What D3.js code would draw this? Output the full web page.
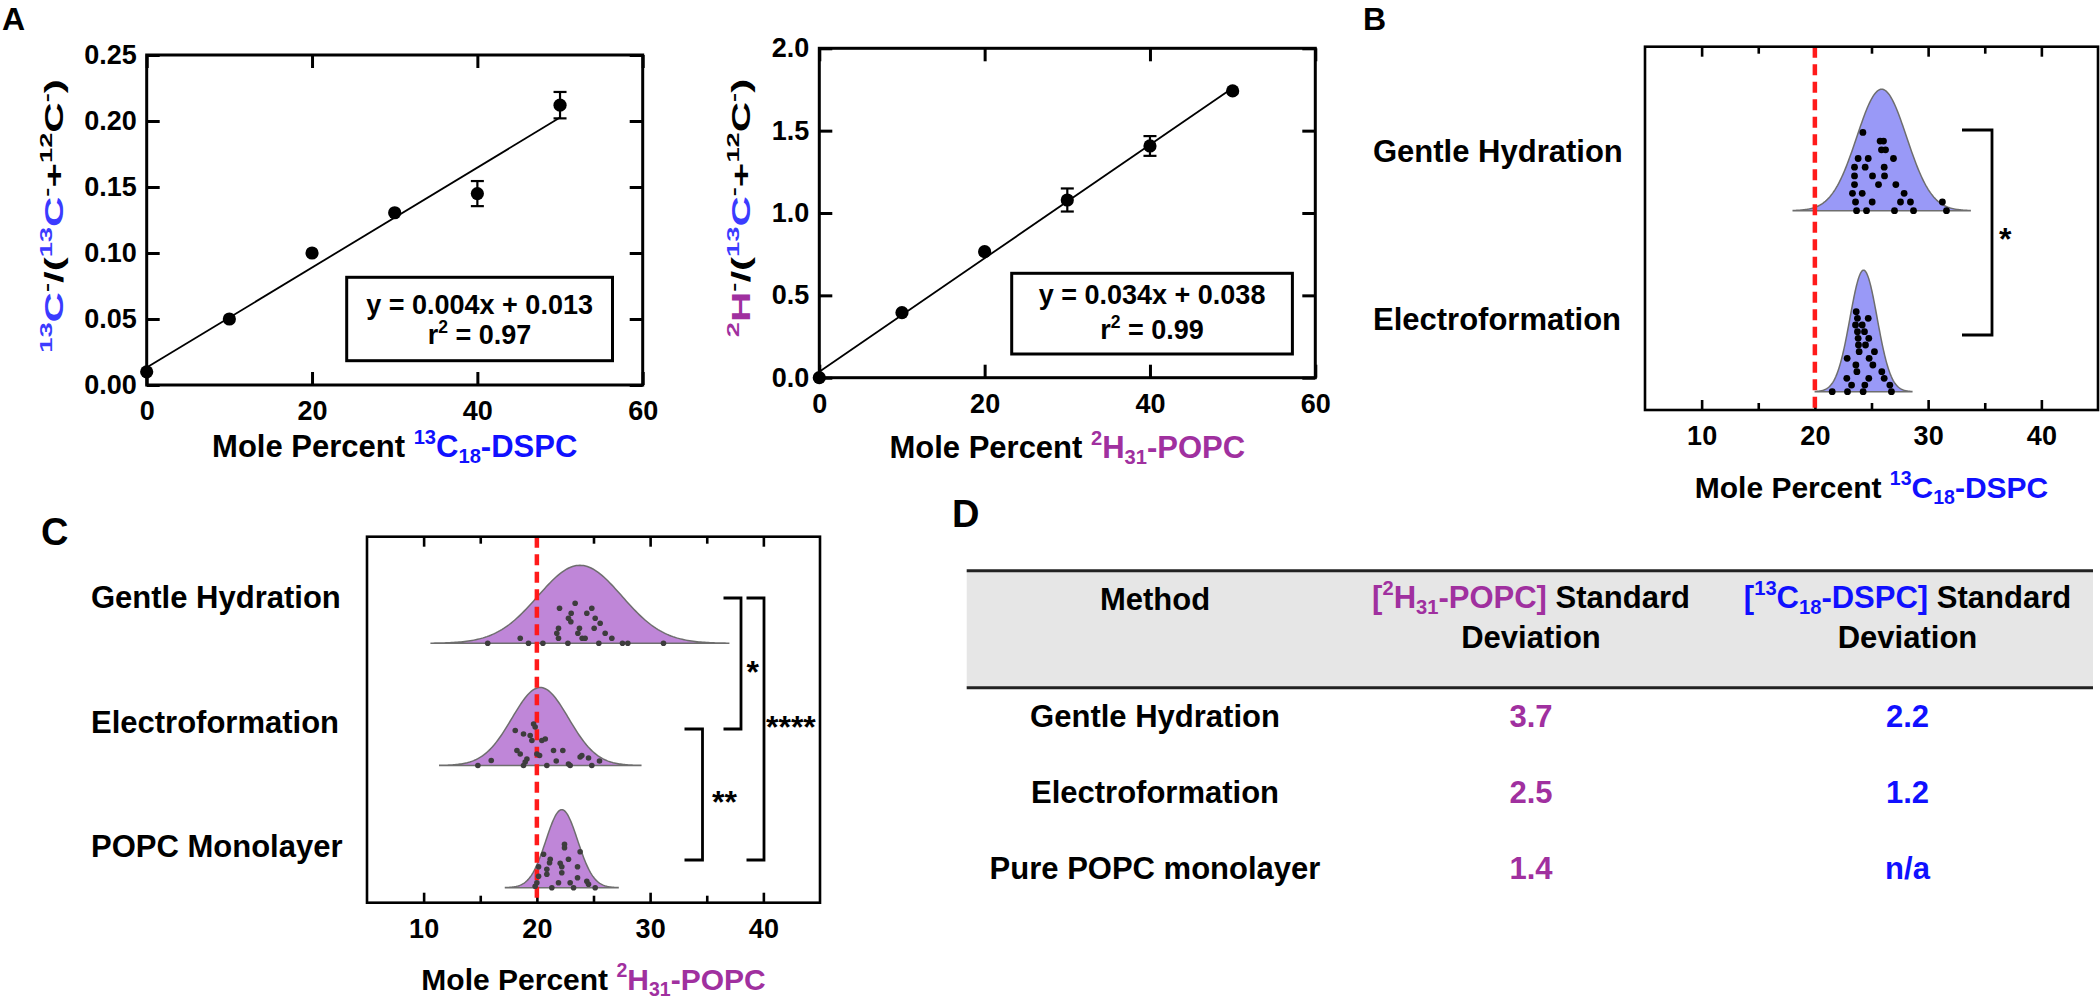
<!DOCTYPE html>
<html lang="en">
<head>
<meta charset="UTF-8">
<title>Lipid composition – calibration and distributions</title>
<style>
  body { margin: 0; background: #fff; }
  svg text { font-family: "Liberation Sans", Arial, sans-serif; font-weight: bold; white-space: pre; }
</style>
</head>
<body>
<svg id="fig" width="2100" height="1001"></svg>
<script src="https://cdn.jsdelivr.net/npm/d3@7"></script>
<script>
// ---------- data ----------
// panel A, calibration curves
const molePct = [0, 10, 20, 30, 40, 50];
const dspcRatio = [0.010, 0.050, 0.100, 0.1305, 0.145, 0.212];
const dspcErr = [0, 0, 0, 0, 0.0095, 0.010];
const popcRatio = [0.0, 0.395, 0.765, 1.079, 1.407, 1.741];
const popcErr = [0, 0, 0, 0.07, 0.06, 0];
const dspcFitText = ["y = 0.004x + 0.013", "0.97"];
const popcFitText = ["y = 0.034x + 0.038", "0.99"];

// panel B / C categories and distributions
const catsB = ["Gentle Hydration", "Electroformation"];
const meanB = [25.9, 24.3];
const catsC = ["Gentle Hydration", "Electroformation", "POPC Monolayer"];
const meanC = [23.8, 20.3, 22.2];

// single-vesicle values: [mole percent, stack level]
const dotsB_GH = [[23.68,0],[24.56,0],[27.03,0],[28.71,0],[31.62,0],
  [23.59,1],[25.06,1],[27.56,1],[28.44,1],[31.26,1],
  [23.32,2],[24.18,2],[27.88,2],
  [23.50,3],[25.62,3],[27.15,3],
  [23.50,4],[25.09,4],[26.15,4],
  [23.50,5],[24.44,5],[26.12,5],
  [23.82,6],[24.71,6],[26.94,6],
  [25.88,7],[26.24,7],
  [25.76,8],[26.06,8],
  [24.24,9]];
const dotsB_EF = [[21.53,0],[22.88,0],[24.26,0],[26.76,0],
  [23.24,1],[24.41,1],[26.62,1],
  [22.82,2],[24.76,2],[26.12,2],
  [23.71,3],[25.91,3],
  [23.62,4],[25.12,4],
  [22.85,5],[24.79,5],
  [23.91,6],[25.26,6],
  [23.85,7],[24.47,7],
  [23.82,8],[24.76,8],
  [23.76,9],[24.38,9],
  [23.59,10],[24.18,10],
  [23.76,11],[24.71,11],
  [23.65,12]];
const dotsC_GH = [[15.66,0],[18.53,1],[19.26,0],[20.53,0],[22.0,7],[22.74,0],[23.03,6],[22.79,5],
  [23.0,4.3],[23.38,8],[24.85,7],[24.41,6],[25.15,5],[25.59,4],[25.06,3],[23.76,3],[23.62,2],
  [24.0,1],[24.26,1],[21.91,3],[21.76,2],[21.91,1],[25.47,0],[26.03,2],[26.62,1],[27.56,0],
  [28.03,0],[31.18,0]];
const dotsC_EF = [[14.79,0],[15.97,1],[18.09,7],[18.82,6.3],[19.71,8.3],[19.85,7.7],[19.41,6],
  [19.56,5],[20.44,5],[20.74,5.3],[18.24,3],[18.53,2.3],[19.12,1.3],[18.97,0.7],[18.82,0],
  [20.0,2.3],[20.24,2],[20.88,0],[21.47,3],[22.29,3],[21.71,0.9],[22.79,0.3],[22.94,0],
  [23.82,1.7],[23.97,2],[24.56,1.5],[24.85,0],[25.53,0.9]];
const dotsC_PM = [[19.85,0.3],[21.32,0],[23.24,0],[25.15,0],[21.91,1],[22.94,1],[23.59,2],
  [24.41,1.3],[20.15,2.3],[20.88,2.7],[20.88,3.7],[22.2,3],[22.2,4.2],[21.18,5.7],[20.59,6.7],
  [21.12,5],[22.79,5.7],[23.59,4.2],[22.44,8.7],[22.44,8],[23.82,7.2],[22.06,4.9],[20.15,4.2],
  [20.0,1],[24.56,0.7]];

// significance brackets
const sigB = [{ a: "Gentle Hydration", b: "Electroformation", label: "*" }];
const sigC = [
  { a: "Gentle Hydration", b: "Electroformation", label: "*" },
  { a: "Electroformation", b: "POPC Monolayer", label: "**" },
  { a: "Gentle Hydration", b: "POPC Monolayer", label: "****" }
];

// panel D table
const methods = ["Gentle Hydration", "Electroformation", "Pure POPC monolayer"];
const popcSD = [3.7, 2.5, 1.4];
const dspcSD = [2.2, 1.2, null];

const PURPLE = "#a0309f";
const BLUE = "#1010ff";
const BLUE_L = "#3b3bff";

const svg = d3.select("#fig");

// text with super/subscripts
function rich(text, parts, size) {
  let shift = 0;
  parts.forEach(p => {
    const target = p.s === "sup" ? -0.42 * size : p.s === "sub" ? 0.2 * size : 0;
    text.append("tspan")
      .attr("dy", target - shift)
      .attr("font-size", p.s ? size * 0.65 : size)
      .attr("fill", p.c || "#000")
      .text(p.t);
    shift = target;
  });
  return text;
}

function panelLetter(x, y, t, size) {
  svg.append("text").attr("x", x).attr("y", y).attr("font-size", size).text(t);
}

// ---------- panel A ----------
function scatterPanel(o) {
  const g = svg.append("g");
  const x = d3.scaleLinear([0, 60], o.xr);
  const y = d3.scaleLinear(o.yd, o.yr);

  const styleAxis = a => {
    a.select(".domain").remove();
    a.selectAll(".tick line").attr("stroke", "#000").attr("stroke-width", 3);
    a.selectAll(".tick text").attr("font-size", 27).attr("fill", "#000");
  };
  g.append("g").attr("transform", `translate(0,${o.yr[0]})`)
    .call(d3.axisBottom(x).tickValues([0, 20, 40, 60]).tickSizeInner(-13).tickSizeOuter(0).tickPadding(16))
    .call(styleAxis);
  g.append("g").attr("transform", `translate(0,${o.yr[1]})`)
    .call(d3.axisTop(x).tickValues([0, 20, 40, 60]).tickSizeInner(-13).tickSizeOuter(0).tickFormat(""))
    .call(styleAxis);
  g.append("g").attr("transform", `translate(${o.xr[0]},0)`)
    .call(d3.axisLeft(y).tickValues(o.yticks).tickSizeInner(-13).tickSizeOuter(0).tickPadding(10).tickFormat(d3.format(o.fmt)))
    .call(styleAxis);
  g.append("g").attr("transform", `translate(${o.xr[1]},0)`)
    .call(d3.axisRight(y).tickValues(o.yticks).tickSizeInner(-13).tickSizeOuter(0).tickFormat(""))
    .call(styleAxis);
  g.append("rect").attr("x", o.xr[0]).attr("y", o.yr[1])
    .attr("width", o.xr[1] - o.xr[0]).attr("height", o.yr[0] - o.yr[1])
    .attr("fill", "none").attr("stroke", "#000").attr("stroke-width", 3);

  // least squares line
  const mx = d3.mean(molePct), my = d3.mean(o.vals);
  const sxy = d3.sum(molePct, (v, i) => (v - mx) * (o.vals[i] - my));
  const sxx = d3.sum(molePct, v => (v - mx) ** 2);
  const slope = sxy / sxx, icpt = my - slope * mx;
  const ext = d3.extent(molePct);
  g.append("line")
    .attr("x1", x(ext[0])).attr("y1", y(icpt + slope * ext[0]))
    .attr("x2", x(ext[1])).attr("y2", y(icpt + slope * ext[1]))
    .attr("stroke", "#000").attr("stroke-width", 1.8);

  const pts = molePct.map((v, i) => ({ x: v, y: o.vals[i], e: o.err[i] }));
  const eb = g.append("g").attr("stroke", "#000").attr("stroke-width", 2.2);
  pts.filter(d => d.e > 0).forEach(d => {
    eb.append("line").attr("x1", x(d.x)).attr("x2", x(d.x)).attr("y1", y(d.y - d.e)).attr("y2", y(d.y + d.e));
    [d.y - d.e, d.y + d.e].forEach(v =>
      eb.append("line").attr("x1", x(d.x) - 6.5).attr("x2", x(d.x) + 6.5).attr("y1", y(v)).attr("y2", y(v)));
  });
  g.append("g").selectAll("circle").data(pts).join("circle")
    .attr("cx", d => x(d.x)).attr("cy", d => y(d.y)).attr("r", 6.6).attr("fill", "#000");

  // fit box
  const b = o.box;
  g.append("rect").attr("x", b[0]).attr("y", b[1]).attr("width", b[2] - b[0]).attr("height", b[3] - b[1])
    .attr("fill", "#fff").attr("stroke", "#000").attr("stroke-width", 3);
  const cx = (b[0] + b[2]) / 2;
  g.append("text").attr("x", cx).attr("y", o.eqY[0]).attr("text-anchor", "middle")
    .attr("font-size", 27).text(o.fit[0]);
  rich(g.append("text").attr("x", cx).attr("y", o.eqY[1]).attr("text-anchor", "middle"),
    [{ t: "r" }, { t: "2", s: "sup" }, { t: " = " + o.fit[1] }], 27);

  // axis titles
  rich(g.append("text").attr("x", (o.xr[0] + o.xr[1]) / 2).attr("y", o.xtY).attr("text-anchor", "middle"),
    o.xtitle, 31);
  rich(g.append("text").attr("text-anchor", "middle")
    .attr("transform", `translate(${o.ytX},${o.ytY}) rotate(-90) scale(1,0.62)`), o.ytitle, 42);
}

scatterPanel({
  xr: [146.7, 642.7], yr: [385, 55], yd: [0, 0.25], yticks: [0, 0.05, 0.10, 0.15, 0.20, 0.25], fmt: ".2f",
  vals: dspcRatio, err: dspcErr, fit: dspcFitText,
  box: [346.7, 277.3, 612.5, 360.7], eqY: [314, 344],
  xtY: 457, ytX: 63, ytY: 216,
  xtitle: [{ t: "Mole Percent " }, { t: "13", s: "sup", c: BLUE }, { t: "C", c: BLUE }, { t: "18", s: "sub", c: BLUE }, { t: "-DSPC", c: BLUE }],
  ytitle: [{ t: "13", s: "sup", c: BLUE_L }, { t: "C", c: BLUE_L }, { t: "-", s: "sup" }, { t: "/(" },
    { t: "13", s: "sup", c: BLUE_L }, { t: "C", c: BLUE_L }, { t: "-", s: "sup" }, { t: "+" },
    { t: "12", s: "sup" }, { t: "C" }, { t: "-", s: "sup" }, { t: ")" }]
});
scatterPanel({
  xr: [819.3, 1315.3], yr: [377.7, 48.3], yd: [0, 2], yticks: [0, 0.5, 1, 1.5, 2], fmt: ".1f",
  vals: popcRatio, err: popcErr, fit: popcFitText,
  box: [1011.7, 273.3, 1292.4, 354], eqY: [304, 339],
  xtY: 458, ytX: 750, ytY: 208,
  xtitle: [{ t: "Mole Percent " }, { t: "2", s: "sup", c: PURPLE }, { t: "H", c: PURPLE }, { t: "31", s: "sub", c: PURPLE }, { t: "-POPC", c: PURPLE }],
  ytitle: [{ t: "2", s: "sup", c: PURPLE }, { t: "H", c: PURPLE }, { t: "-", s: "sup" }, { t: "/(" },
    { t: "13", s: "sup", c: BLUE_L }, { t: "C", c: BLUE_L }, { t: "-", s: "sup" }, { t: "+" },
    { t: "12", s: "sup" }, { t: "C" }, { t: "-", s: "sup" }, { t: ")" }]
});

// ---------- panels B and C ----------
function ridgePanel(o) {
  const g = svg.append("g");
  const x = d3.scaleLinear([5, 45], o.xr);
  const base = d3.scalePoint(o.cats, o.baseR);
  const lab = d3.scalePoint(o.cats, o.labR);
  const brk = d3.scalePoint(o.cats, o.brkR);

  const styleAxis = a => {
    a.select(".domain").remove();
    a.selectAll(".tick line").attr("stroke", "#000").attr("stroke-width", 2.6);
    a.selectAll(".tick text").attr("font-size", 27).attr("fill", "#000");
  };
  const major = [10, 20, 30, 40], minor = [15, 25, 35];
  g.append("g").attr("transform", `translate(0,${o.yr[0]})`)
    .call(d3.axisBottom(x).tickValues(major).tickSizeInner(-10).tickSizeOuter(0).tickPadding(16)).call(styleAxis);
  g.append("g").attr("transform", `translate(0,${o.yr[0]})`)
    .call(d3.axisBottom(x).tickValues(minor).tickSizeInner(-7).tickSizeOuter(0).tickFormat("")).call(styleAxis);
  g.append("g").attr("transform", `translate(0,${o.yr[1]})`)
    .call(d3.axisTop(x).tickValues(major).tickSizeInner(-10).tickSizeOuter(0).tickFormat("")).call(styleAxis);
  g.append("g").attr("transform", `translate(0,${o.yr[1]})`)
    .call(d3.axisTop(x).tickValues(minor).tickSizeInner(-7).tickSizeOuter(0).tickFormat("")).call(styleAxis);

  // ridges: normal curve from the group's mean and SD
  o.cats.forEach((c, i) => {
    const m = o.means[i], s = o.sds[i];
    const xs = d3.range(0, 161).map(k => m - 3.55 * s + 7.1 * s * k / 160);
    const yv = d3.scaleLinear([0, 1], [base(c), base(c) - o.h]);
    const area = d3.area().x(v => x(v)).y0(base(c)).y1(v => yv(Math.exp(-0.5 * ((v - m) / s) ** 2)));
    g.append("path").attr("d", area(xs)).attr("fill", o.fill)
      .attr("stroke", "#6e6e6e").attr("stroke-width", 1.5);
  });

  // reference line at 20 mol%
  g.append("line").attr("x1", x(20)).attr("x2", x(20)).attr("y1", o.yr[1]).attr("y2", o.yr[0])
    .attr("stroke", "#ff1a1a").attr("stroke-width", 4.5).attr("stroke-dasharray", "11,6.5");

  // dots
  o.cats.forEach((c, i) => {
    g.append("g").selectAll("circle").data(o.dots[i]).join("circle")
      .attr("cx", d => x(d[0])).attr("cy", d => base(c) - d[1] * o.step[i])
      .attr("r", o.r).attr("fill", o.dotFill);
  });

  g.append("rect").attr("x", o.xr[0]).attr("y", o.yr[1])
    .attr("width", o.xr[1] - o.xr[0]).attr("height", o.yr[0] - o.yr[1])
    .attr("fill", "none").attr("stroke", "#000").attr("stroke-width", 2.6);

  // category labels
  g.selectAll(".cat").data(o.cats).join("text").attr("class", "cat")
    .attr("x", o.labX).attr("y", c => lab(c)).attr("font-size", 31).text(c => c);

  // significance brackets
  o.sig.forEach((s, i) => {
    const bx = o.brkX[i];
    g.append("path")
      .attr("d", `M${bx[0]},${brk(s.a)}H${bx[1]}V${brk(s.b)}H${bx[0]}`)
      .attr("fill", "none").attr("stroke", "#000").attr("stroke-width", 2.8);
    g.append("text").attr("x", bx[2]).attr("y", o.starY[i]).attr("font-size", 32).text(s.label);
  });

  rich(g.append("text").attr("x", (o.xr[0] + o.xr[1]) / 2).attr("y", o.xtY).attr("text-anchor", "middle"),
    o.xtitle, 30);
}

ridgePanel({
  xr: [1645, 2098], yr: [410, 46.7], cats: catsB, means: meanB, sds: dspcSD.slice(0, 2),
  baseR: [210.7, 391.7], labR: [161.7, 330], brkR: [130, 335], labX: 1373, h: 121.5,
  fill: "#9999f7", dotFill: "#000", r: 3.4, step: [8.7, 6.67], dots: [dotsB_GH, dotsB_EF],
  sig: sigB, brkX: [[1962, 1992, 1999]], starY: [250],
  xtY: 498,
  xtitle: [{ t: "Mole Percent " }, { t: "13", s: "sup", c: BLUE }, { t: "C", c: BLUE }, { t: "18", s: "sub", c: BLUE }, { t: "-DSPC", c: BLUE }]
});

ridgePanel({
  xr: [367, 820], yr: [902.7, 536.7], cats: catsC, means: meanC, sds: popcSD,
  baseR: [643.3, 887.7], labR: [608.3, 856.7], brkR: [598, 860], labX: 91, h: 78,
  fill: "#bf86d8", dotFill: "#3d3d3d", r: 2.8, step: [5, 5, 5], dots: [dotsC_GH, dotsC_EF, dotsC_PM],
  sig: sigC, brkX: [[723.5, 741, 746.5], [684.5, 702.5, 712], [746.5, 764, 766]], starY: [683, 813, 738],
  xtY: 990,
  xtitle: [{ t: "Mole Percent " }, { t: "2", s: "sup", c: PURPLE }, { t: "H", c: PURPLE }, { t: "31", s: "sub", c: PURPLE }, { t: "-POPC", c: PURPLE }]
});

// ---------- panel D: table ----------
const colX = [1155, 1531, 1907.5];
const tbl = svg.append("g");
tbl.append("rect").attr("x", 966.7).attr("y", 570.7).attr("width", 2093 - 966.7).attr("height", 117)
  .attr("fill", "#e6e6e6");
[570.7, 687.7].forEach(yy => tbl.append("line").attr("x1", 966.7).attr("x2", 2093).attr("y1", yy).attr("y2", yy)
  .attr("stroke", "#222").attr("stroke-width", 3));
tbl.append("text").attr("x", colX[0]).attr("y", 610).attr("text-anchor", "middle").attr("font-size", 31).text("Method");
rich(tbl.append("text").attr("x", colX[1]).attr("y", 608).attr("text-anchor", "middle"),
  [{ t: "[", c: PURPLE }, { t: "2", s: "sup", c: PURPLE }, { t: "H", c: PURPLE }, { t: "31", s: "sub", c: PURPLE },
   { t: "-POPC]", c: PURPLE }, { t: " Standard" }], 31);
rich(tbl.append("text").attr("x", colX[2]).attr("y", 608).attr("text-anchor", "middle"),
  [{ t: "[", c: BLUE }, { t: "13", s: "sup", c: BLUE }, { t: "C", c: BLUE }, { t: "18", s: "sub", c: BLUE },
   { t: "-DSPC]", c: BLUE }, { t: " Standard" }], 31);
[colX[1], colX[2]].forEach(cx => tbl.append("text").attr("x", cx).attr("y", 648.3)
  .attr("text-anchor", "middle").attr("font-size", 31).text("Deviation"));

const rowY = d3.scalePoint(methods, [726.7, 878.7]);
tbl.selectAll(".m").data(methods).join("text").attr("class", "m")
  .attr("x", colX[0]).attr("y", d => rowY(d)).attr("text-anchor", "middle").attr("font-size", 31).text(d => d);
tbl.selectAll(".p").data(popcSD).join("text").attr("class", "p")
  .attr("x", colX[1]).attr("y", (d, i) => rowY(methods[i])).attr("text-anchor", "middle")
  .attr("font-size", 31).attr("fill", PURPLE).text(d => d3.format(".1f")(d));
tbl.selectAll(".d").data(dspcSD).join("text").attr("class", "d")
  .attr("x", colX[2]).attr("y", (d, i) => rowY(methods[i])).attr("text-anchor", "middle")
  .attr("font-size", 31).attr("fill", BLUE).text(d => d == null ? "n/a" : d3.format(".1f")(d));

// panel letters
panelLetter(2, 30, "A", 32);
panelLetter(1363, 30, "B", 32);
panelLetter(41, 545, "C", 38);
panelLetter(952, 527, "D", 38);
</script>
</body>
</html>
